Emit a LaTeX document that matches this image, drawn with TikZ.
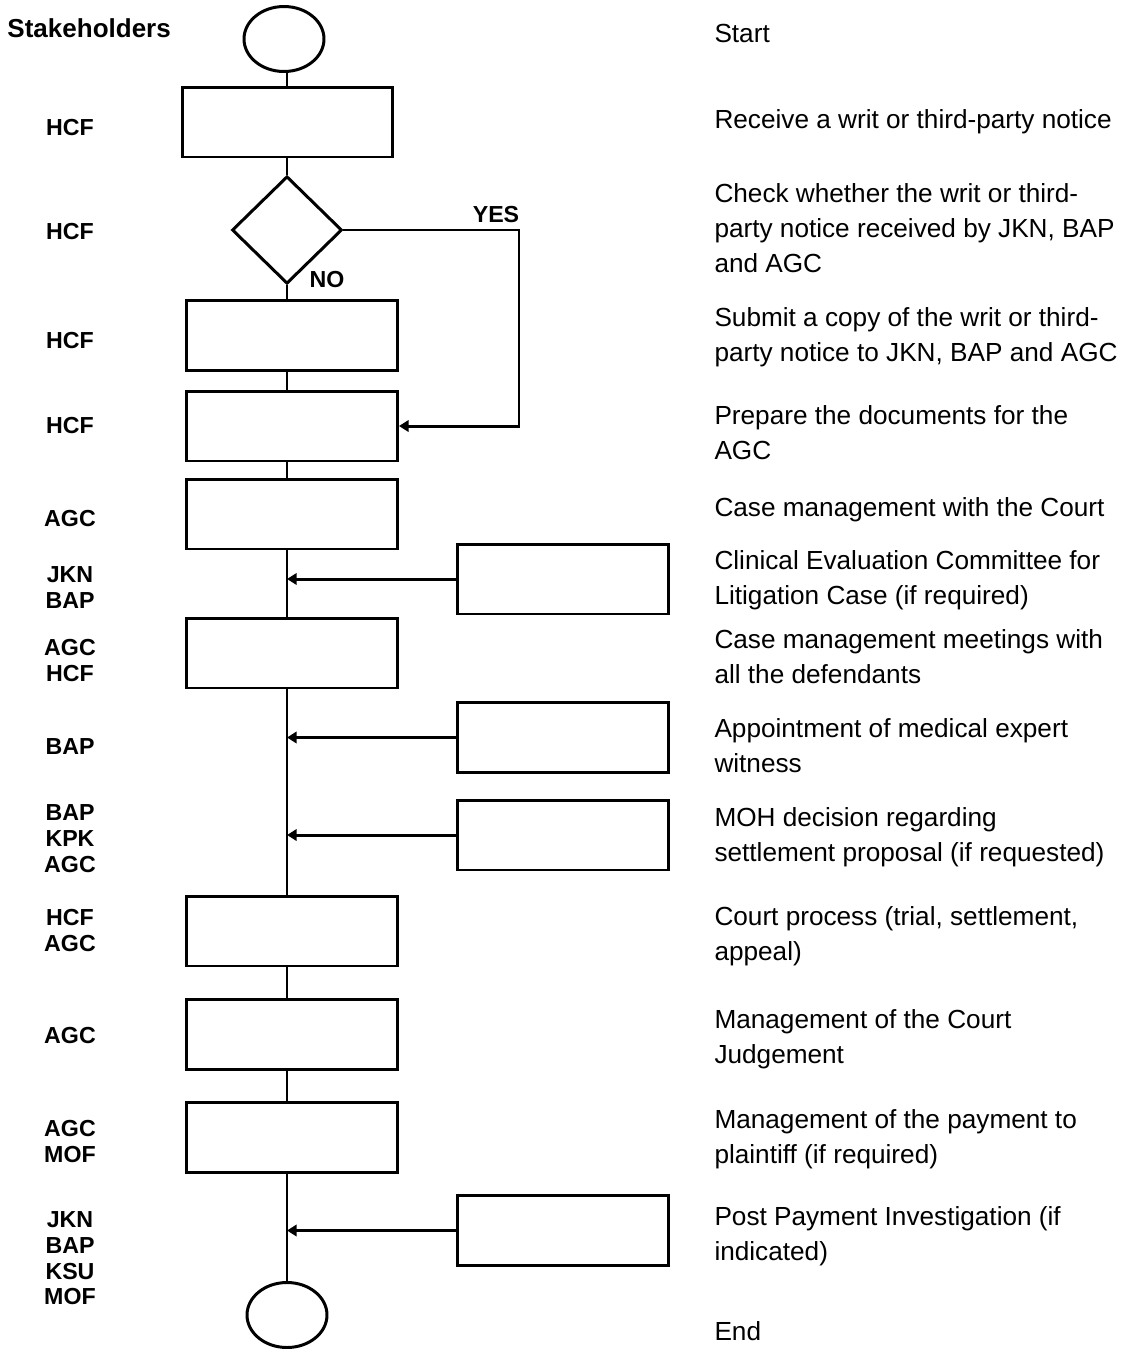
\documentclass[tikz,border=0pt]{standalone}
\usepackage{fontspec}
\setmainfont{Liberation Sans}
\usetikzlibrary{shapes.geometric,arrows.meta,positioning}

\begin{document}
\begin{tikzpicture}[x=0.02cm, y=-0.02cm, line width=1.7pt,
    stepbox/.style={rectangle, draw, minimum width=4.22cm, minimum height=1.4cm, inner sep=0pt},
    term/.style={ellipse, draw, minimum width=1.6cm, minimum height=1.3cm, inner sep=0pt},
    decision/.style={diamond, draw, minimum width=2.2cm, minimum height=2.15cm, inner sep=0pt},
    who/.style={anchor=north, align=center, inner sep=0pt, font=\fontsize{13.2}{14.7}\selectfont\bfseries},
    desc/.style={anchor=north west, align=left, inner sep=0pt, font=\fontsize{14.9}{19.9}\selectfont},
    flow/.style={-{Triangle[length=5.5pt,width=6.5pt]}}
]
    \useasboundingbox (0,0) rectangle (1130,1349);

    % main column
    \node[term] (start) at (284,39) {};
    \node[stepbox] (s1) at (287.5,122) {};
    \node[decision] (dec) at (287,230) {};
    \node[stepbox] (s2) at (292,335.5) {};
    \node[stepbox] (s3) at (292,426) {};
    \node[stepbox] (s4) at (292,514) {};
    \node[stepbox] (s5) at (292,653) {};
    \node[stepbox] (s6) at (292,931) {};
    \node[stepbox] (s7) at (292,1034) {};
    \node[stepbox] (s8) at (292,1137) {};
    \node[term] (end) at (287,1315) {};

    % side boxes
    \node[stepbox] (c1) at (563,579) {};
    \node[stepbox] (c2) at (563,737.5) {};
    \node[stepbox] (c3) at (563,835) {};
    \node[stepbox] (c4) at (563,1230.5) {};

    % connectors
    \draw (start.south -| dec) -- (s1.north -| dec);
    \draw (s1.south -| dec) -- (dec.north);
    \draw (dec.south) -- (s2.north -| dec);
    \draw (s2.south -| dec) -- (s3.north -| dec);
    \draw (s3.south -| dec) -- (s4.north -| dec);
    \draw (s4.south -| dec) -- (s5.north -| dec);
    \draw (s5.south -| dec) -- (s6.north -| dec);
    \draw (s6.south -| dec) -- (s7.north -| dec);
    \draw (s7.south -| dec) -- (s8.north -| dec);
    \draw (s8.south -| dec) -- (end.north);
    \coordinate (yc) at (519,230);
    \draw[flow] (dec.east) -- (yc) |- (s3.east);
    \draw[flow] (c1.west) -- (c1.west -| dec);
    \draw[flow] (c2.west) -- (c2.west -| dec);
    \draw[flow] (c3.west) -- (c3.west -| dec);
    \draw[flow] (c4.west) -- (c4.west -| dec);

    % branch labels
    \node[who] (yes) at (496,205) {YES};
    \node[who] (no) at (327,270) {NO};

    % stakeholders
    \node[anchor=north west, inner sep=0pt, font=\fontsize{14.8}{16}\selectfont\bfseries] (hd) at (6,17) {Stakeholders};
    \node[who] (w1) at (70,118) {HCF};
    \node[who] (w2) at (70,222) {HCF};
    \node[who] (w3) at (70,331) {HCF};
    \node[who] (w4) at (70,416) {HCF};
    \node[who] (w5) at (70,509) {AGC};
    \node[who] (w6) at (70,565) {JKN\\BAP};
    \node[who] (w7) at (70,638) {AGC\\HCF};
    \node[who] (w8) at (70,737) {BAP};
    \node[who] (w9) at (70,803) {BAP\\KPK\\AGC};
    \node[who] (w10) at (70,908) {HCF\\AGC};
    \node[who] (w11) at (70,1026) {AGC};
    \node[who] (w12) at (70,1119) {AGC\\MOF};
    \node[who] (w13) at (70,1210) {JKN\\BAP\\KSU\\MOF};

    % descriptions
    \node[desc] (d0) at (713,23) {Start};
    \node[desc] (d1) at (713,108) {Receive a writ or third-party notice};
    \node[desc] (d2) at (713,182) {Check whether the writ or third-\\party notice received by JKN, BAP\\and AGC};
    \node[desc] (d3) at (713,306) {Submit a copy of the writ or third-\\party notice to JKN, BAP and AGC};
    \node[desc] (d4) at (713,404) {Prepare the documents for the\\AGC};
    \node[desc] (d5) at (713,496) {Case management with the Court};
    \node[desc] (d6) at (713,549) {Clinical Evaluation Committee for\\Litigation Case (if required)};
    \node[desc] (d7) at (713,628) {Case management meetings with\\all the defendants};
    \node[desc] (d8) at (713,717) {Appointment of medical expert\\witness};
    \node[desc] (d9) at (713,806) {MOH decision regarding\\settlement proposal (if requested)};
    \node[desc] (d10) at (713,905) {Court process (trial, settlement,\\appeal)};
    \node[desc] (d11) at (713,1008) {Management of the Court\\Judgement};
    \node[desc] (d12) at (713,1108) {Management of the payment to\\plaintiff (if required)};
    \node[desc] (d13) at (713,1205) {Post Payment Investigation (if\\indicated)};
    \node[desc] (d14) at (713,1320) {End};
\end{tikzpicture}
\end{document}
